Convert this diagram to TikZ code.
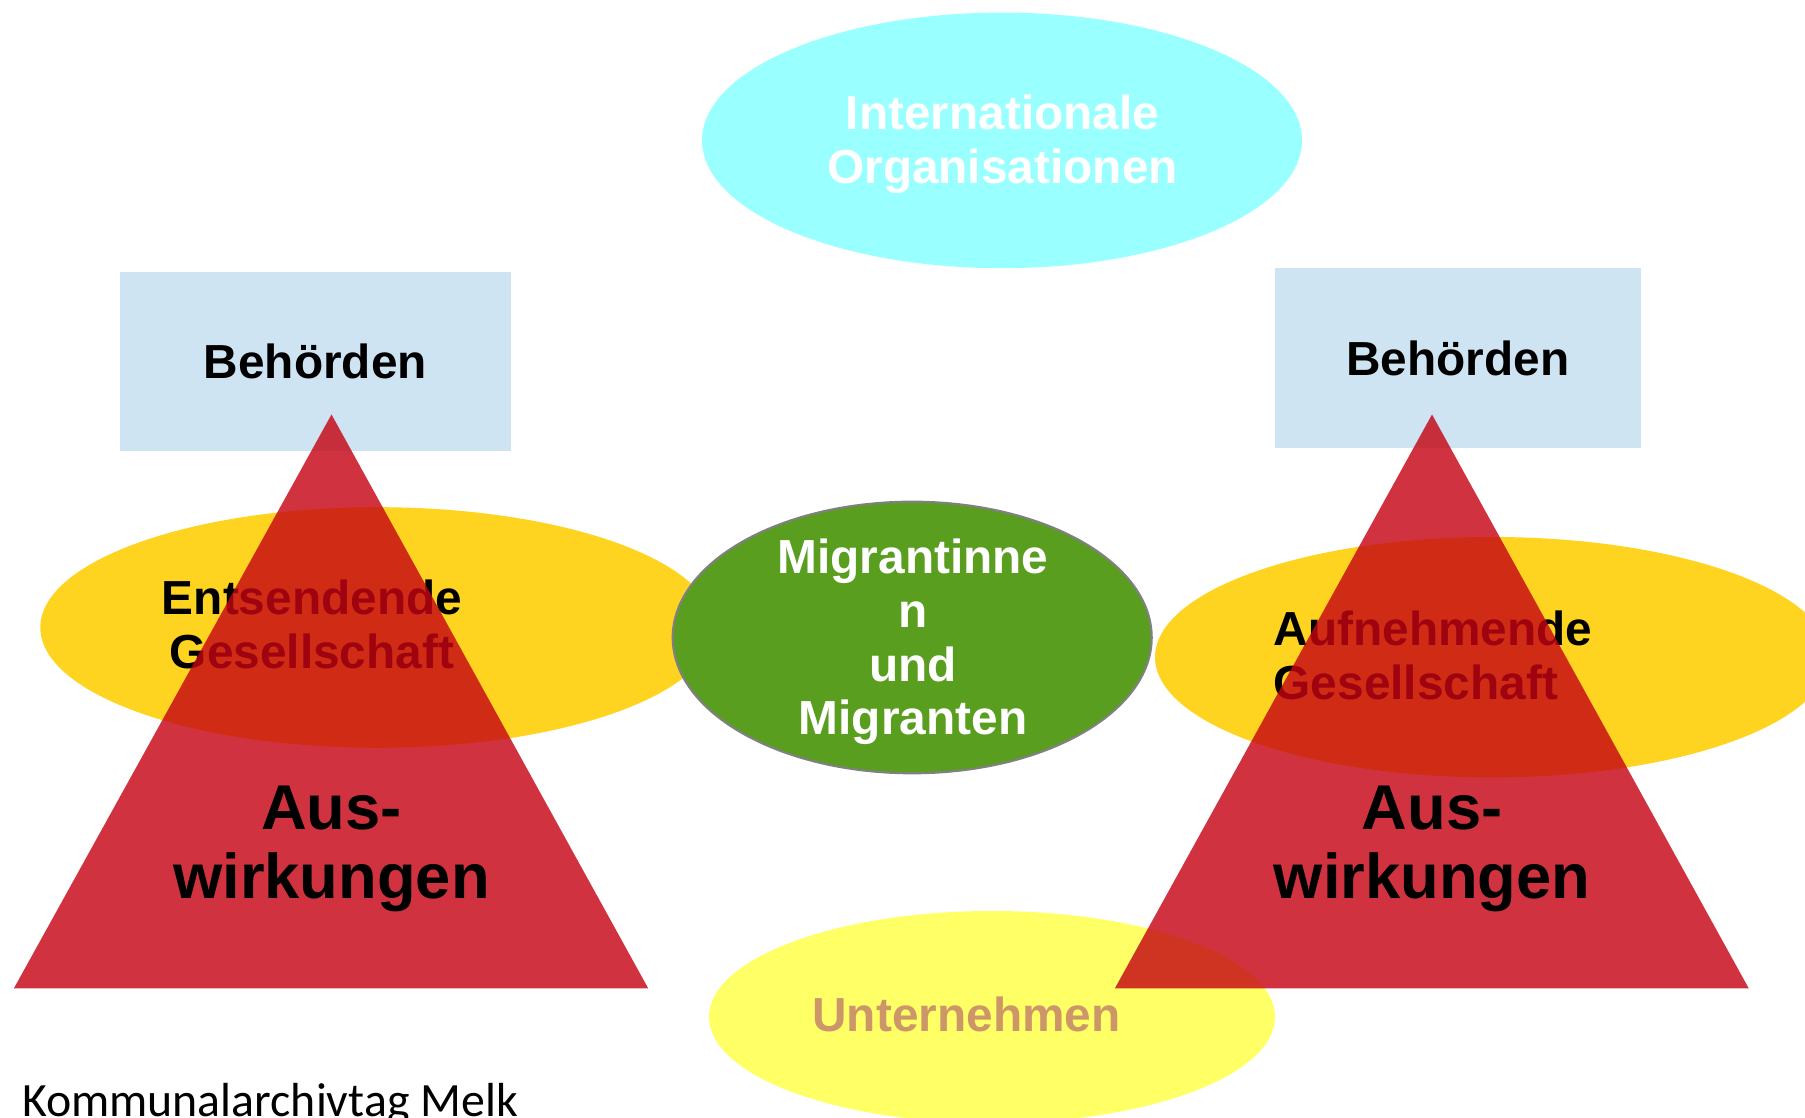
\documentclass[tikz,border=0pt]{standalone}
\usepackage{fontspec}
\setmainfont{Liberation Sans}
\newfontfamily\footfont{Carlito}
\usepackage{tikz}
\usetikzlibrary{shapes.geometric}

\definecolor{cyanblob}{RGB}{153,255,255}
\definecolor{amtblue}{RGB}{207,228,242}
\definecolor{gold}{RGB}{255,212,32}
\definecolor{migrgreen}{RGB}{89,158,31}
\definecolor{lemon}{RGB}{255,255,102}
\definecolor{tanbrown}{RGB}{205,150,105}
\definecolor{pyramid}{RGB}{197,4,19}

\begin{document}
\begin{tikzpicture}
    \tikzstyle{oval} = [ellipse, inner sep=0pt]
    \tikzstyle{amt}  = [rectangle, fill=amtblue, inner sep=0pt, font=\fontsize{13.6}{15.3}\selectfont\bfseries]
    \tikzstyle{txt}  = [inner sep=0pt, align=center, font=\fontsize{13.6}{15.3}\selectfont\bfseries]
    \tikzstyle{big}  = [inner sep=0pt, align=center, font=\fontsize{18}{19.5}\selectfont\bfseries]
    \tikzstyle{pyr}  = [fill=pyramid, fill opacity=0.81]

    \useasboundingbox (0,0) rectangle (18.05,11.18);

    % international organisations
    \node[oval,fill=cyanblob,minimum width=6cm,minimum height=2.556cm] (io) at (10.02,9.776) {};
    \node[txt,text=white] (iotext) at (10.025,9.7375) {Internationale\\Organisationen};

    % authorities
    \node[amt,minimum width=3.915cm,minimum height=1.795cm] (amtl) at (3.1525,7.5625) {Behörden};
    \node[amt,minimum width=3.665cm,minimum height=1.802cm] (amtr) at (14.5775,7.596) {Behörden};

    % societies
    \node[oval,fill=gold,minimum width=6.74cm,minimum height=2.406cm] (gesl) at (3.773,4.905) {};
    \node[txt] (gesltext) at (3.12,4.937) {Entsendende\\Gesellschaft};
    \node[oval,fill=gold,minimum width=6.74cm,minimum height=2.404cm] (gesr) at (14.92,4.608) {};
    \node[txt,align=left,anchor=west] (gesrtext) at (12.73,4.624) {Aufnehmende\\Gesellschaft};

    % migrants
    \node[oval,fill=migrgreen,draw=gray,line width=0.6pt,minimum width=4.79cm,minimum height=2.716cm] (mig) at (9.122,4.805) {};
    \node[txt,text=white] (migtext) at (9.13,4.76) {Migrantinne\\n\\und\\Migranten};

    % companies
    \node[oval,fill=lemon,minimum width=5.66cm,minimum height=2.12cm] (firm) at (9.92,1.01) {};
    \node[txt,text=tanbrown] (firmtext) at (9.665,1.031) {Unternehmen};

    % effects
    \fill[pyr] (3.315,7.035) -- (0.138,1.295) -- (6.483,1.295) -- cycle;
    \fill[pyr] (14.32,7.035) -- (11.148,1.295) -- (17.488,1.295) -- cycle;
    \node[big] (wirkl) at (3.315,2.693) {Aus-\\wirkungen};
    \node[big] (wirkr) at (14.32,2.693) {Aus-\\wirkungen};

    \node[anchor=base west,inner sep=0pt,font=\footfont\fontsize{13.6}{15}\selectfont] (tag) at (0.215,0.01) {Kommunalarchivtag Melk};
\end{tikzpicture}
\end{document}
